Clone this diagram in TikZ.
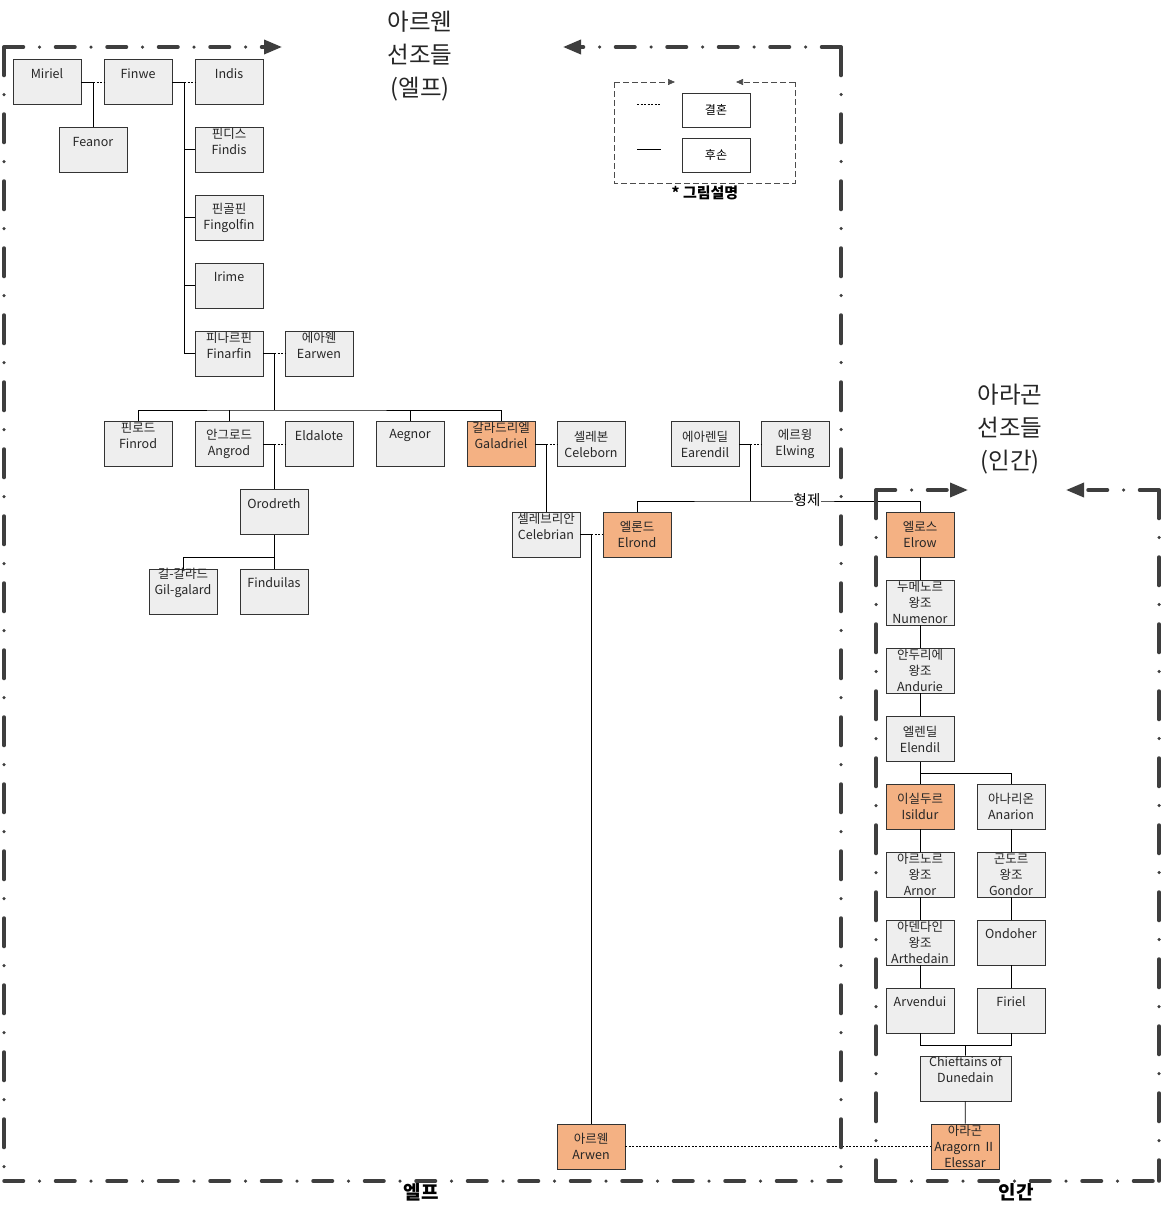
\documentclass[tikz,border=0pt]{standalone}
\usepackage{fontspec}
\setmainfont{Noto Sans CJK KR}
\usetikzlibrary{arrows.meta,positioning}

\definecolor{famgray}{RGB}{238,238,238}
\definecolor{famorange}{RGB}{244,177,131}
\definecolor{bordergray}{RGB}{62,62,62}

\newlength\famw
\setlength\famw{68pt}
\newcommand\famfont{\fontsize{12.5}{16}\selectfont}
% text block sits in the upper part of the box (28pt), or fills it (45pt)
\newcommand\famtxt[2][28]{\parbox[c][45pt][t]{\famw}{\centering\parbox[c][#1pt][c]{\famw}{\centering #2}}}

\begin{document}
\begin{tikzpicture}[x=1pt,y=-1pt,line width=0.7pt,
  fam/.style={draw=black!80,fill=famgray,inner sep=0pt,font=\famfont,text=black!85},
  heir/.style={fam,fill=famorange},
  wed/.style={dash pattern=on 2pt off 1.5pt},
  key/.style={draw=black!80,fill=white,minimum width=68pt,minimum height=34pt,inner sep=0pt,font=\fontsize{12}{14}\selectfont},
  keyframe/.style={draw=black!70,dash pattern=on 6pt off 3pt},
  hborder/.style={draw=bordergray,line width=3.5pt,line cap=round,dash pattern=on 19.5pt off 16pt on 0pt off 16pt},
  vborder/.style={hborder,dash pattern=on 28.5pt off 19pt on 0pt off 19.5pt},
  bigarrow/.style={-{Triangle[length=18pt,width=14pt]}},
  heading/.style={align=center,font=\fontsize{23.5}{33}\selectfont,text=black!85},
  region/.style={font=\fontsize{19}{20}\selectfont\bfseries}]
\useasboundingbox (0,0) rectangle (1163,1205);

% elves
\node[fam] (miriel) at (47,82) {\famtxt{Miriel}};
\node[fam] (finwe) at (138,82) {\famtxt{Finwe}};
\node[fam] (indis) at (229,82) {\famtxt{Indis}};
\node[fam] (feanor) at (93,150) {\famtxt{Feanor}};
\node[fam] (findis) at (229,149.5) {\famtxt{핀디스\\Findis}};
\node[fam] (fingolfin) at (229,217.5) {\famtxt[45]{핀골핀\\Fingolfin}};
\node[fam] (irime) at (229,285.5) {\famtxt{Irime}};
\node[fam] (finarfin) at (229,353.5) {\famtxt{피나르핀\\Finarfin}};
\node[fam] (earwen) at (319,353.5) {\famtxt{에아웬\\Earwen}};
\node[fam] (finrod) at (138,444) {\famtxt{핀로드\\Finrod}};
\node[fam] (angrod) at (229,444) {\famtxt[45]{안그로드\\Angrod}};
\node[fam] (eldalote) at (319,444) {\famtxt{Eldalote}};
\node[fam] (aegnor) at (410,444) {\famtxt{Aegnor}};
\node[heir] (galadriel) at (501,444) {\famtxt{갈라드리엘\\Galadriel}};
\node[fam] (celeborn) at (591,444) {\famtxt[45]{셀레본\\Celeborn}};
\node[fam] (earendil) at (705,444) {\famtxt[45]{에아렌딜\\Earendil}};
\node[fam] (elwing) at (795,444) {\famtxt[45]{에르윙\\Elwing}};
\node[fam] (orodreth) at (274,512) {\famtxt{Orodreth}};
\node[fam] (gilgalad) at (183,591.5) {\famtxt{길-갈라드\\Gil-galard}};
\node[fam] (finduilas) at (274,591.5) {\famtxt{Finduilas}};
\node[fam] (celebrian) at (546,534.5) {\famtxt{셀레브리안\\Celebrian}};
\node[heir] (elrond) at (637,534.5) {\famtxt[45]{엘론드\\Elrond}};
\node[heir] (arwen) at (591,1146.5) {\famtxt[45]{아르웬\\Arwen}};

% men
\node[heir] (elrow) at (920,534.5) {\famtxt[45]{엘로스\\Elrow}};
\node[fam] (numenor) at (920,602.5) {\famtxt[45]{누메노르\\왕조\\Numenor}};
\node[fam] (andurie) at (920,670.5) {\famtxt[45]{안두리에\\왕조\\Andurie}};
\node[fam] (elendil) at (920,739) {\famtxt[45]{엘렌딜\\Elendil}};
\node[heir] (isildur) at (920,806.5) {\famtxt[45]{이실두르\\Isildur}};
\node[fam] (anarion) at (1011,806.5) {\famtxt[45]{아나리온\\Anarion}};
\node[fam] (arnor) at (920,874.5) {\famtxt[45]{아르노르\\왕조\\Arnor}};
\node[fam] (gondor) at (1011,874.5) {\famtxt[45]{곤도르\\왕조\\Gondor}};
\node[fam] (arthedain) at (920,942.5) {\famtxt[45]{아덴다인\\왕조\\Arthedain}};
\node[fam] (ondoher) at (1011,942.5) {\famtxt{Ondoher}};
\node[fam] (arvendui) at (920,1010.5) {\famtxt{Arvendui}};
\node[fam] (firiel) at (1011,1010.5) {\famtxt{Firiel}};
\node[fam] (chieftains) at (965.5,1078.5) {\setlength\famw{91pt}\famtxt{Chieftains of\\Dunedain}};
\node[heir] (aragorn) at (965,1146.5) {\famtxt[45]{아라곤\\Aragorn Ⅱ\\Elessar}};

% couples and children
\coordinate (m1) at (93,82);
\coordinate (m2) at (184,82);
\coordinate (m3) at (274,353.5);
\coordinate (m4) at (274,444);
\coordinate (m5) at (546,444);
\coordinate (m6) at (591,534.5);
\coordinate (m7) at (750,444);
\coordinate (bus) at (274,410);
\coordinate (split) at (274,557);
\coordinate (kin) at (750,501);
\coordinate (split2) at (920,773);
\coordinate (join) at (965.5,1045);

\draw (miriel)--(m1)--(feanor);
\draw[wed] (m1)--(finwe);
\draw (finwe)--(m2);
\draw[wed] (m2)--(indis);
\draw (m2)|-(findis) (m2)|-(fingolfin) (m2)|-(irime) (m2)|-(finarfin);
\draw (finarfin)--(m3)--(bus);
\draw[wed] (m3)--(earwen);
\draw (finrod)|-(bus)-|(galadriel) (angrod)--(angrod|-bus) (aegnor)--(aegnor|-bus);
\draw (angrod)--(m4)--(orodreth);
\draw[wed] (m4)--(eldalote);
\draw (orodreth)--(finduilas) (split)-|(gilgalad);
\draw (galadriel)--(m5)--(celebrian);
\draw[wed] (m5)--(celeborn);
\draw (celebrian)--(m6)--(arwen);
\draw[wed] (m6)--(elrond);
\draw (earendil)--(m7)--(kin);
\draw[wed] (m7)--(elwing);
\draw (elrond)|-(kin)-|(elrow);
\node[fill=white,inner sep=1pt,font=\fontsize{14.5}{16}\selectfont] (kinlabel) at (807,500) {형제};
\draw (elrow)--(numenor) (numenor)--(andurie) (andurie)--(elendil) (elendil)--(isildur);
\draw (split2)-|(anarion);
\draw (isildur)--(arnor) (arnor)--(arthedain) (arthedain)--(arvendui);
\draw (anarion)--(gondor) (gondor)--(ondoher) (ondoher)--(firiel);
\draw (arvendui)|-(join)-|(firiel);
\draw (join)--(chieftains) (chieftains)--(aragorn);
\draw[wed] (arwen)--(aragorn);

% legend
\node[key] (wedkey) at (716,110) {결혼};
\node[key] (kidkey) at (716,155) {후손};
\coordinate (wa) at (637,104);
\coordinate (wb) at (661,104);
\coordinate (ka) at (637,149);
\coordinate (kb) at (661,149);
\draw[wed] (wa)--(wb);
\draw (ka)--(kb);
\coordinate (lgnw) at (614,82);
\coordinate (lgsw) at (614,183);
\coordinate (lgse) at (795,183);
\coordinate (lgne) at (795,82);
\draw[keyframe] (lgnw)--(lgsw)--(lgse)--(lgne);
\draw[keyframe,-{Triangle[length=7pt,width=6pt]}] (lgnw)--(675,82);
\draw[keyframe,-{Triangle[length=7pt,width=6pt]}] (lgne)--(736,82);
\node[font=\fontsize{15}{16}\selectfont\bfseries] (keytitle) at (705,193) {* 그림설명};

% regions
\coordinate (elfnw) at (4,47);
\coordinate (elfne) at (841,47);
\coordinate (elfsw) at (4,1181);
\coordinate (elfse) at (841,1181);
\draw[hborder,bigarrow] (elfnw)--(282,47);
\draw[hborder,bigarrow] (elfne)--(563,47);
\draw[vborder] (elfnw)--(elfsw);
\draw[vborder] (elfne)--(elfse);
\draw[hborder] (elfsw)--(elfse);
\node[heading] (elftitle) at (420,56) {아르웬\\선조들\\(엘프)};
\node[region] (elflabel) at (421,1192) {엘프};

\coordinate (humnw) at (876,490);
\coordinate (humne) at (1159,490);
\coordinate (humsw) at (876,1181);
\coordinate (humse) at (1159,1181);
\draw[hborder,bigarrow] (humnw)--(968,490);
\draw[hborder,bigarrow] (humne)--(1066,490);
\draw[vborder] (humnw)--(humsw);
\draw[vborder] (humne)--(humse);
\draw[hborder] (humsw)--(humse);
\node[heading] (humtitle) at (1010,429.5) {아라곤\\선조들\\(인간)};
\node[region] (humlabel) at (1016,1192) {인간};
\end{tikzpicture}
\end{document}
